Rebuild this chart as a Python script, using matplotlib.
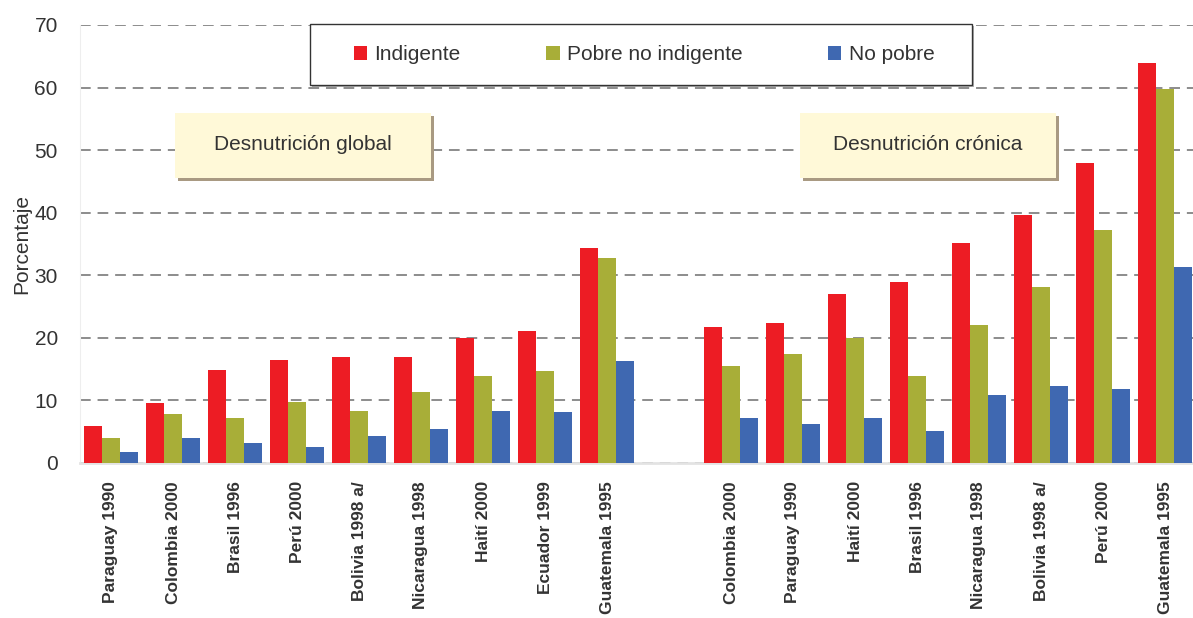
#!/usr/bin/env python3
import numpy as np
from matplotlib import pyplot as plt
from matplotlib.patches import Rectangle

plt.rcParams['font.family'] = ['Liberation Sans', 'DejaVu Sans']

# %% data
paises_global = ['Paraguay 1990', 'Colombia 2000', 'Brasil 1996', 'Perú 2000',
                 'Bolivia 1998 a/', 'Nicaragua 1998', 'Haití 2000',
                 'Ecuador 1999', 'Guatemala 1995']
indig_global = [5.9, 9.6, 14.8, 16.4, 16.9, 16.9, 19.9, 21.1, 34.4]
pobre_global = [4.0, 7.8, 7.2, 9.7, 8.3, 11.3, 13.9, 14.7, 32.7]
nopobre_global = [1.8, 4.0, 3.2, 2.6, 4.3, 5.4, 8.3, 8.1, 16.3]

paises_cronica = ['Colombia 2000', 'Paraguay 1990', 'Haití 2000', 'Brasil 1996',
                  'Nicaragua 1998', 'Bolivia 1998 a/', 'Perú 2000',
                  'Guatemala 1995']
indig_cronica = [21.7, 22.3, 27.0, 29.0, 35.2, 39.7, 47.9, 63.9]
pobre_cronica = [15.5, 17.4, 19.9, 13.9, 22.0, 28.2, 37.2, 59.8]
nopobre_cronica = [7.2, 6.2, 7.2, 5.1, 10.9, 12.3, 11.8, 31.3]

series = ['Indigente', 'Pobre no indigente', 'No pobre']
colores = ['#ED1C24', '#A8AE38', '#3F68B1']

# %% positions: first block, one empty slot, second block
x1 = np.arange(len(paises_global))
x2 = np.arange(len(paises_cronica)) + len(paises_global) + 1
x = np.concatenate([x1, x2])
labels = paises_global + paises_cronica
vals = [indig_global + indig_cronica,
        pobre_global + pobre_cronica,
        nopobre_global + nopobre_cronica]

fig = plt.figure(figsize=(11.93, 6.18), dpi=100)
ax = fig.add_axes([80 / 1193, 155 / 618, 1116 / 1193, 438 / 618])

w = 0.29
bars = []
for i, (s, c) in enumerate(zip(series, colores)):
    bars.append(ax.bar(x + (i - 1) * w, vals[i], width=w, color=c, label=s, zorder=3))

ax.set_xlim(-0.5, len(x) + 0.5)
ax.set_ylim(0, 70)
ax.set_yticks(range(0, 71, 10))
ax.yaxis.grid(True, color='#6e6e6e', linestyle=(0, (7, 4.5)), linewidth=1.1, zorder=0)
ax.set_axisbelow(True)
ax.set_xticks(x)
ax.set_xticklabels(labels, rotation=90, fontsize=12.5, fontweight='bold', color='#333333')
ax.tick_params(axis='x', length=0, pad=13)
ax.tick_params(axis='y', length=0, pad=16, labelsize=15, labelcolor='#333333')
for sp in ['top', 'right']:
    ax.spines[sp].set_visible(False)
ax.spines['left'].set_color('#eeeeee')
ax.spines['bottom'].set_color('#e3e3e3')
ax.spines['bottom'].set_linewidth(2)
ax.set_ylabel('Porcentaje', fontsize=15, color='#333333', labelpad=2)

# %% legend box
fig.patches.append(Rectangle((312 / 1193, (618 - 87) / 618), 662 / 1193, 61 / 618,
                             transform=fig.transFigure, facecolor='#b0b0b0',
                             edgecolor='none', zorder=4))
fig.patches.append(Rectangle((310 / 1193, (618 - 85) / 618), 662 / 1193, 61 / 618,
                             transform=fig.transFigure, facecolor='white',
                             edgecolor='#333333', linewidth=1, zorder=5))
leg = fig.legend(bars, series, loc='center', bbox_to_anchor=(644 / 1193, (618 - 55) / 618),
                 ncol=3, frameon=False,
                 fontsize=15, handlelength=0.65, handleheight=0.65,
                 handletextpad=0.35, columnspacing=4.1)
leg.set_zorder(6)
for t in leg.get_texts():
    t.set_color('#333333')

# %% section boxes
for x0, txt in [(175, 'Desnutrición global'), (800, 'Desnutrición crónica')]:
    bw = 256
    fig.patches.append(Rectangle(((x0 + 3) / 1193, (618 - 181) / 618), bw / 1193, 65 / 618,
                                 transform=fig.transFigure, facecolor='#A99A82',
                                 edgecolor='none', zorder=4))
    fig.patches.append(Rectangle((x0 / 1193, (618 - 178) / 618), bw / 1193, 65 / 618,
                                 transform=fig.transFigure, facecolor='#FFF9D8',
                                 edgecolor='none', zorder=5))
    fig.text((x0 + bw / 2) / 1193, (618 - 145) / 618, txt, ha='center', va='center',
             fontsize=15, color='#333333', zorder=6)

plt.savefig('out.png', dpi=100)
